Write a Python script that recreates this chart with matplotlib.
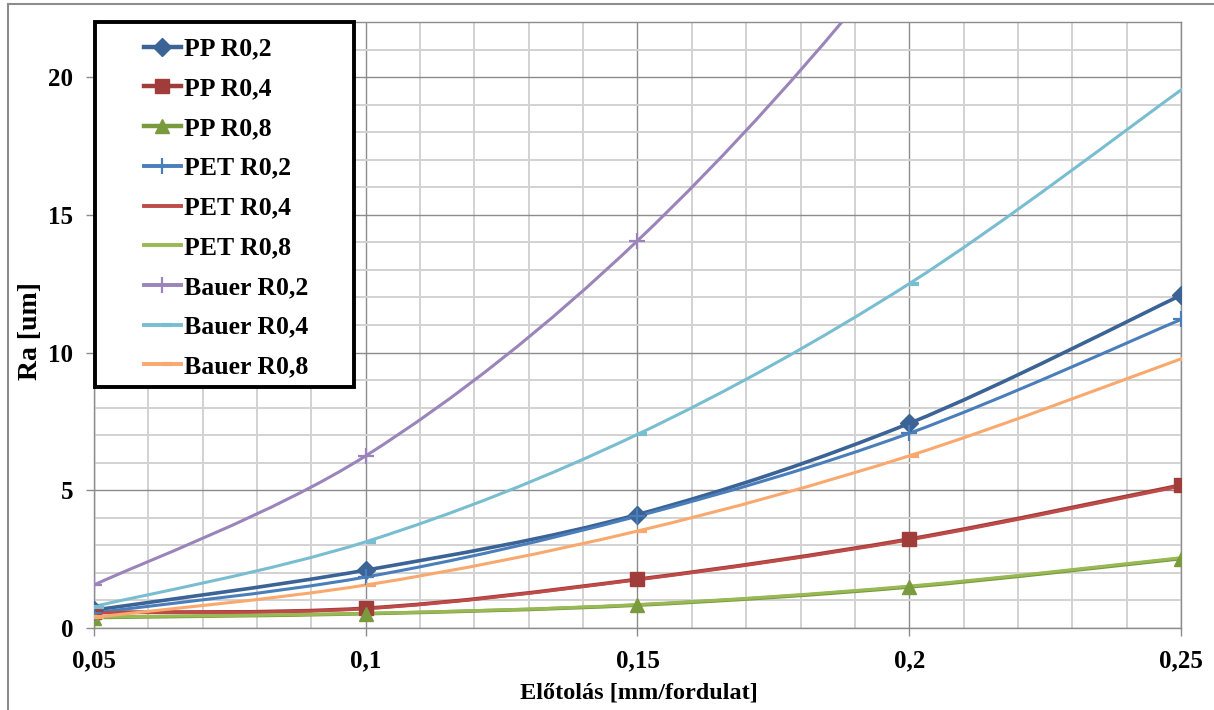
import matplotlib
matplotlib.use("Agg")
import matplotlib.pyplot as plt
import numpy as np
from matplotlib.lines import Line2D
from matplotlib.patches import PathPatch, Rectangle
from matplotlib.path import Path

plt.rcParams['font.family'] = ['Liberation Serif', 'DejaVu Serif']
plt.rcParams['font.weight'] = 'bold'

# feed [mm/rev]
feed = [0.05, 0.1, 0.15, 0.2, 0.25]
x_labels = ['0,05', '0,1', '0,15', '0,2', '0,25']
y_ticks = [0, 5, 10, 15, 20]

pp_r02 = [0.65, 2.1, 4.12, 7.43, 12.08]
pp_r04 = [0.57, 0.72, 1.77, 3.23, 5.19]
pp_r08 = [0.38, 0.52, 0.83, 1.49, 2.52]
pet_r02 = [0.55, 1.85, 4.06, 7.07, 11.2]
pet_r04 = [0.55, 0.7, 1.75, 3.2, 5.15]
pet_r08 = [0.4, 0.53, 0.85, 1.52, 2.55]
bauer_r02 = [1.56, 6.25, 14.06, 25.0, 39.06]
bauer_r04 = [0.78, 3.13, 7.03, 12.5, 19.53]
bauer_r08 = [0.39, 1.56, 3.52, 6.25, 9.77]

labels = ['PP R0,2', 'PP R0,4', 'PP R0,8', 'PET R0,2', 'PET R0,4', 'PET R0,8',
          'Bauer R0,2', 'Bauer R0,4', 'Bauer R0,8']
series = [pp_r02, pp_r04, pp_r08, pet_r02, pet_r04, pet_r08,
          bauer_r02, bauer_r04, bauer_r08]

# excel-like short dash marker (starts at the point, goes right)
dash = Path([(0, 0), (1, 0)], [Path.MOVETO, Path.LINETO])

styles = [
    # color, line width, marker, marker size, marker edge width
    ('#3B6396', 2.6, 'D', 9, 1),
    ('#A03C3A', 2.6, 's', 10, 1),
    ('#7A9A3E', 2.6, '^', 10, 1),
    ('#4A7EBB', 2.2, '+', 11, 1.6),
    ('#BE4B48', 2.2, None, 0, 0),
    ('#98B954', 2.2, None, 0, 0),
    ('#9A84BA', 2.2, '+', 11, 1.6),
    ('#79BDD0', 2.2, dash, 14, 3),
    ('#F9A86E', 2.2, dash, 14, 3),
]


def smooth_path(x, y):
    # catmull-rom through the points, like excel's "smoothed line"
    P = np.column_stack([x, y]).astype(float)
    verts = [P[0]]
    codes = [Path.MOVETO]
    n = len(P)
    for i in range(n - 1):
        p0 = P[i - 1] if i > 0 else P[i]
        p3 = P[i + 2] if i + 2 < n else P[i + 1]
        c1 = P[i] + (P[i + 1] - p0) / 6
        c2 = P[i + 1] - (p3 - P[i]) / 6
        verts += [c1, c2, P[i + 1]]
        codes += [Path.CURVE4] * 3
    return Path(verts, codes)


fig = plt.figure(figsize=(12.14, 7.10), dpi=100)
fig.set_facecolor('white')
ax = fig.add_axes([94 / 1214, 82 / 710, 1087 / 1214, 606 / 710])

handles = []
for vals, lab, (c, lw, m, ms, mew) in zip(series, labels, styles):
    ax.add_patch(PathPatch(smooth_path(feed, vals), fill=False, edgecolor=c,
                           lw=lw, capstyle='round', joinstyle='round', zorder=3))
    if m is not None:
        ax.plot(feed, vals, ls='none', marker=m, ms=ms, mew=mew, color=c,
                mec=c, zorder=4)
    handles.append(Line2D([], [], color=c, lw=lw + 0.6, marker=m, ms=ms,
                          mew=mew, mec=c))

ax.set_xlim(0.05, 0.25)
ax.set_ylim(0, 22)
ax.set_xticks(feed)
ax.set_xticklabels(x_labels)
ax.set_yticks(y_ticks)
ax.set_yticklabels([str(v) for v in y_ticks])
ax.set_xticks(np.arange(0.05, 0.2501, 0.01), minor=True)
ax.set_yticks(np.arange(0, 22.5, 1), minor=True)

ax.grid(which='minor', color='#D2D2D2', lw=1.4)
ax.grid(which='major', color='#8C8C8C', lw=1.0)
ax.set_axisbelow(True)
ax.tick_params(which='major', length=6, width=1, color='#8C8C8C',
               labelsize=18, pad=9)
ax.tick_params(which='minor', length=0)
for s in ax.spines.values():
    s.set_color('#8C8C8C')
    s.set_linewidth(1)

ax.set_ylabel('Ra [um]', fontsize=20, fontweight='bold')
ax.yaxis.set_label_coords(-0.047, 0.49)
ax.set_xlabel('Előtolás [mm/fordulat]', fontsize=17.5, fontweight='bold')
ax.xaxis.set_label_coords(0.501, -0.09)

# legend box
ax.add_patch(Rectangle((0.001, 0.398), 0.238, 0.602, transform=ax.transAxes,
                       facecolor='white', edgecolor='black', lw=2.8,
                       zorder=5, clip_on=False))
leg = ax.legend(handles, labels, loc='upper left', bbox_to_anchor=(0.027, 1.008),
                frameon=False, fontsize=18.5, handlelength=1.44,
                handletextpad=0.12, labelspacing=0.65, borderpad=0.3)
leg.set_zorder(6)

# outer chart border
fig.add_artist(Rectangle((8 / 1214, -0.1), 1.2, 1.1 - 4 / 710,
                         transform=fig.transFigure, fill=False,
                         edgecolor='#8C8C8C', lw=1.5))

fig.savefig('out.png', dpi=100)
